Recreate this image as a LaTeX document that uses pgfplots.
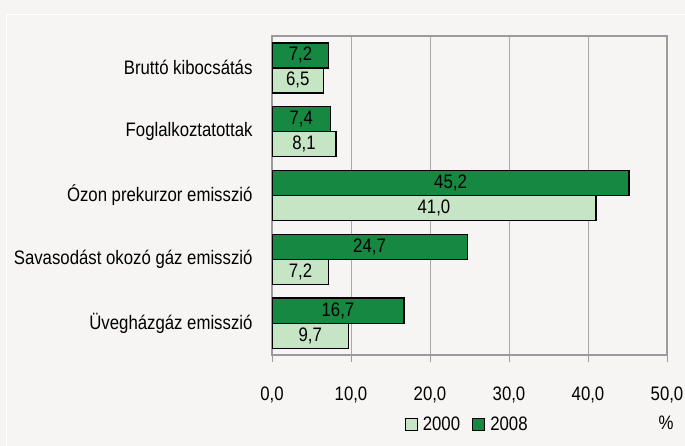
\documentclass[border=0pt]{standalone}
\usepackage{fontspec}
\setmainfont{Liberation Sans}[FakeStretch=0.86]
\usepackage{pgfplots}
\pgfplotsset{compat=1.18}
\definecolor{dark}{HTML}{178842}
\definecolor{light}{HTML}{C6E5C5}
\definecolor{bg}{HTML}{F6F5F3}
\definecolor{framegray}{HTML}{9B9B9F}
\definecolor{gridgray}{HTML}{A8A8AB}
\newcommand{\myfont}{\fontsize{19.5bp}{22bp}\selectfont}
\begin{document}
\begin{tikzpicture}
\fill[bg] (0,0) rectangle (685bp,446bp);
\draw[white, line width=1.5bp] (6.5bp,0) -- (6.5bp,431.5bp) -- (685bp,431.5bp);
\begin{axis}[
  at={(272bp,91bp)}, anchor=south west,
  scale only axis, width=395bp, height=319bp,
  xbar, bar width=25bp,
  xmin=0, xmax=50, ymin=-0.5, ymax=4.5,
  xtick={0,10,20,30,40,50},
  ytick={0,1,2,3,4},
  yticklabels={Üvegházgáz emisszió, Savasodást okozó gáz emisszió, Ózon prekurzor emisszió, Foglalkoztatottak, Bruttó kibocsátás},
  axis line style={draw=framegray, line width=2bp},
  xmajorgrids, grid style={gridgray, line width=1bp},
  ytick style={draw=none},
  xtick style={draw=framegray, line width=1bp},
  xtick pos=bottom, tick align=outside, major tick length=7bp,
  /pgf/number format/assume math mode=true,
  xticklabel style={font=\myfont, yshift=-21bp, /pgf/number format/.cd, fixed, fixed zerofill, precision=1, use comma},
  yticklabel style={font=\myfont, xshift=-9bp},
  visualization depends on=rawx\as\rawx,
  nodes near coords={\pgfmathprintnumber[fixed,fixed zerofill,precision=1,use comma]{\pgfplotspointmeta}},
  every node near coord/.append style={font=\myfont, anchor=center, inner sep=0pt, shift={(axis direction cs:-\rawx/2,0)}},
  legend entries={2000, 2008},
  legend columns=2,
  legend style={at={(0.494,-0.219)}, anchor=center, draw=none, fill=none, font=\myfont,
    /tikz/every odd column/.append style={column sep=3bp},
    /tikz/every even column/.append style={column sep=10bp}},
  legend image code/.code={\draw[#1,draw=black,line width=1.2bp] (0bp,-6bp) rectangle (12bp,6bp);},
]
\addplot[fill=light, draw=black, line width=1.2bp, bar shift=-12.5bp] coordinates {
  (9.7,0) (7.2,1) (41.0,2) (8.1,3) (6.5,4)};
\addplot[fill=dark, draw=black, line width=1.2bp, bar shift=12.5bp] coordinates {
  (16.7,0) (24.7,1) (45.2,2) (7.4,3) (7.2,4)};
\end{axis}
\node[font=\myfont] at (666bp,23bp) {\%};
\pgfresetboundingbox
\useasboundingbox (0,0) rectangle (685bp,446bp);
\end{tikzpicture}
\end{document}
